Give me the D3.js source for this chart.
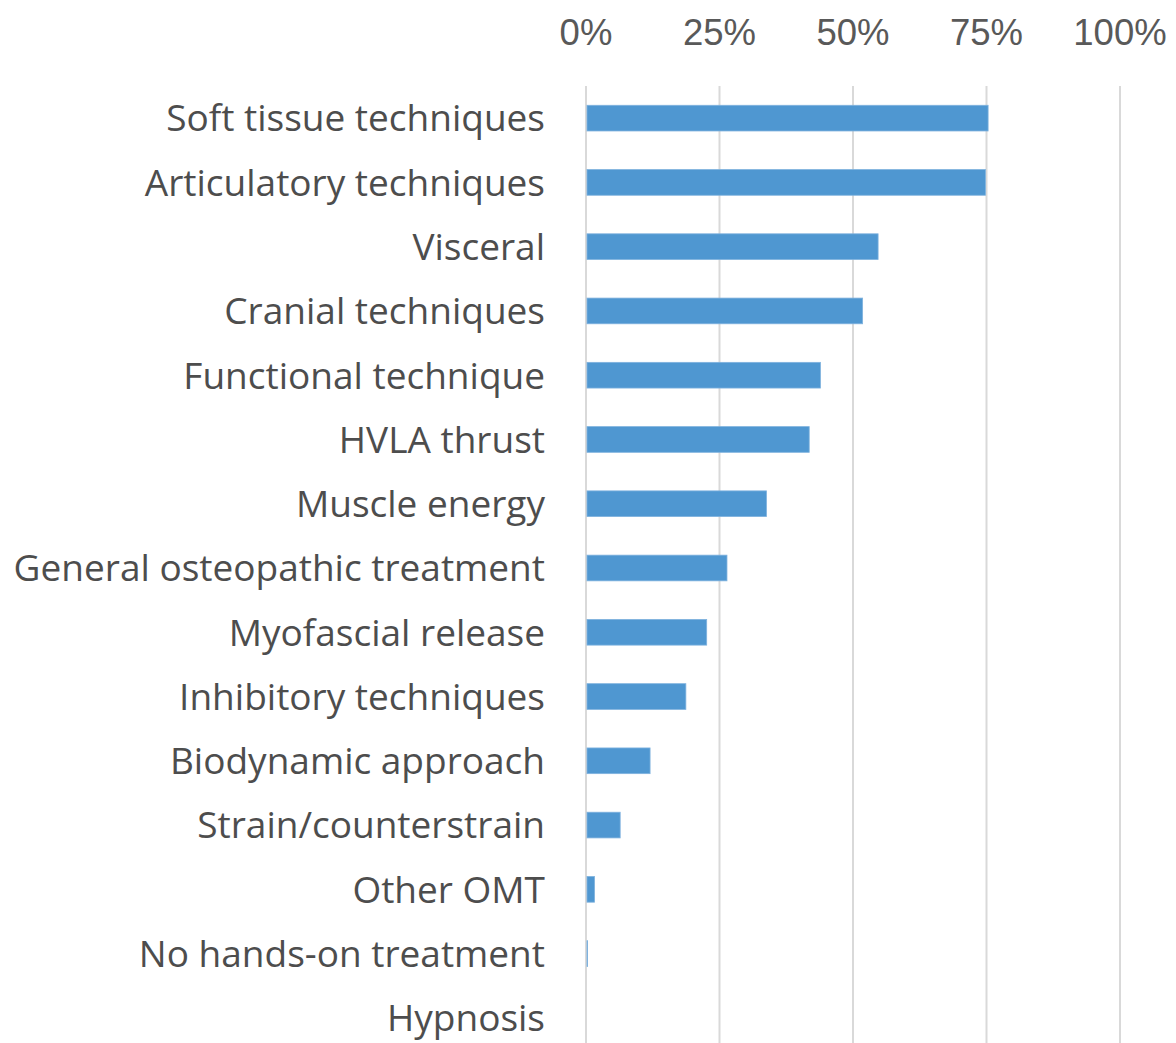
<!DOCTYPE html>
<html><head><meta charset="utf-8">
<script src="https://cdn.jsdelivr.net/npm/d3@7"></script>
<style>body{margin:0;background:#fff}</style>
</head><body>
<svg id="c" width="1176" height="1043"></svg>
<script>
const categories = ["Soft tissue techniques","Articulatory techniques","Visceral","Cranial techniques","Functional technique","HVLA thrust","Muscle energy","General osteopathic treatment","Myofascial release","Inhibitory techniques","Biodynamic approach","Strain/counterstrain","Other OMT","No hands-on treatment","Hypnosis"];
const values = [75.3, 74.8, 54.7, 51.8, 43.9, 41.8, 33.8, 26.4, 22.6, 18.7, 12.0, 6.4, 1.6, 0.3, 0];
const tickValues = [0, 25, 50, 75, 100];
const tickLabels = ["0%","25%","50%","75%","100%"];

const svg = d3.select("#c");
const x = d3.scaleLinear().domain([0,100]).range([586,1120]);
const y = d3.scaleBand().domain(categories).range([86,1050]).paddingInner(0.6).paddingOuter(0.3);

svg.append("g").selectAll("line").data(tickValues).join("line")
  .attr("x1",d=>x(d)).attr("x2",d=>x(d)).attr("y1",86).attr("y2",1043)
  .attr("stroke","#d9d9d9").attr("stroke-width",2);

svg.append("g").selectAll("text").data(tickValues).join("text")
  .attr("x",d=>x(d)).attr("y",45).attr("text-anchor","middle")
  .attr("font-family","Liberation Sans, Arial, sans-serif").attr("font-size",36.5)
  .attr("fill","#595959").text((d,i)=>tickLabels[i]);

svg.append("g").selectAll("rect").data(values).join("rect")
  .attr("x",x(0)+1).attr("y",(d,i)=>y(categories[i]))
  .attr("width",d=>Math.max(0,x(d)-x(0)-1)).attr("height",y.bandwidth())
  .attr("fill","#4f97d1").attr("stroke","#7fb2de").attr("stroke-width",d=>d>0?0.8:0);

svg.append("g").selectAll("text").data(categories).join("text")
  .attr("x",545).attr("y",d=>y(d)+y.bandwidth()/2).attr("dy","0.36em")
  .attr("text-anchor","end").attr("font-family","Open Sans, sans-serif").attr("font-size",37)
  .attr("fill","#4d4d4d").text(d=>d);
</script>
</body></html>
